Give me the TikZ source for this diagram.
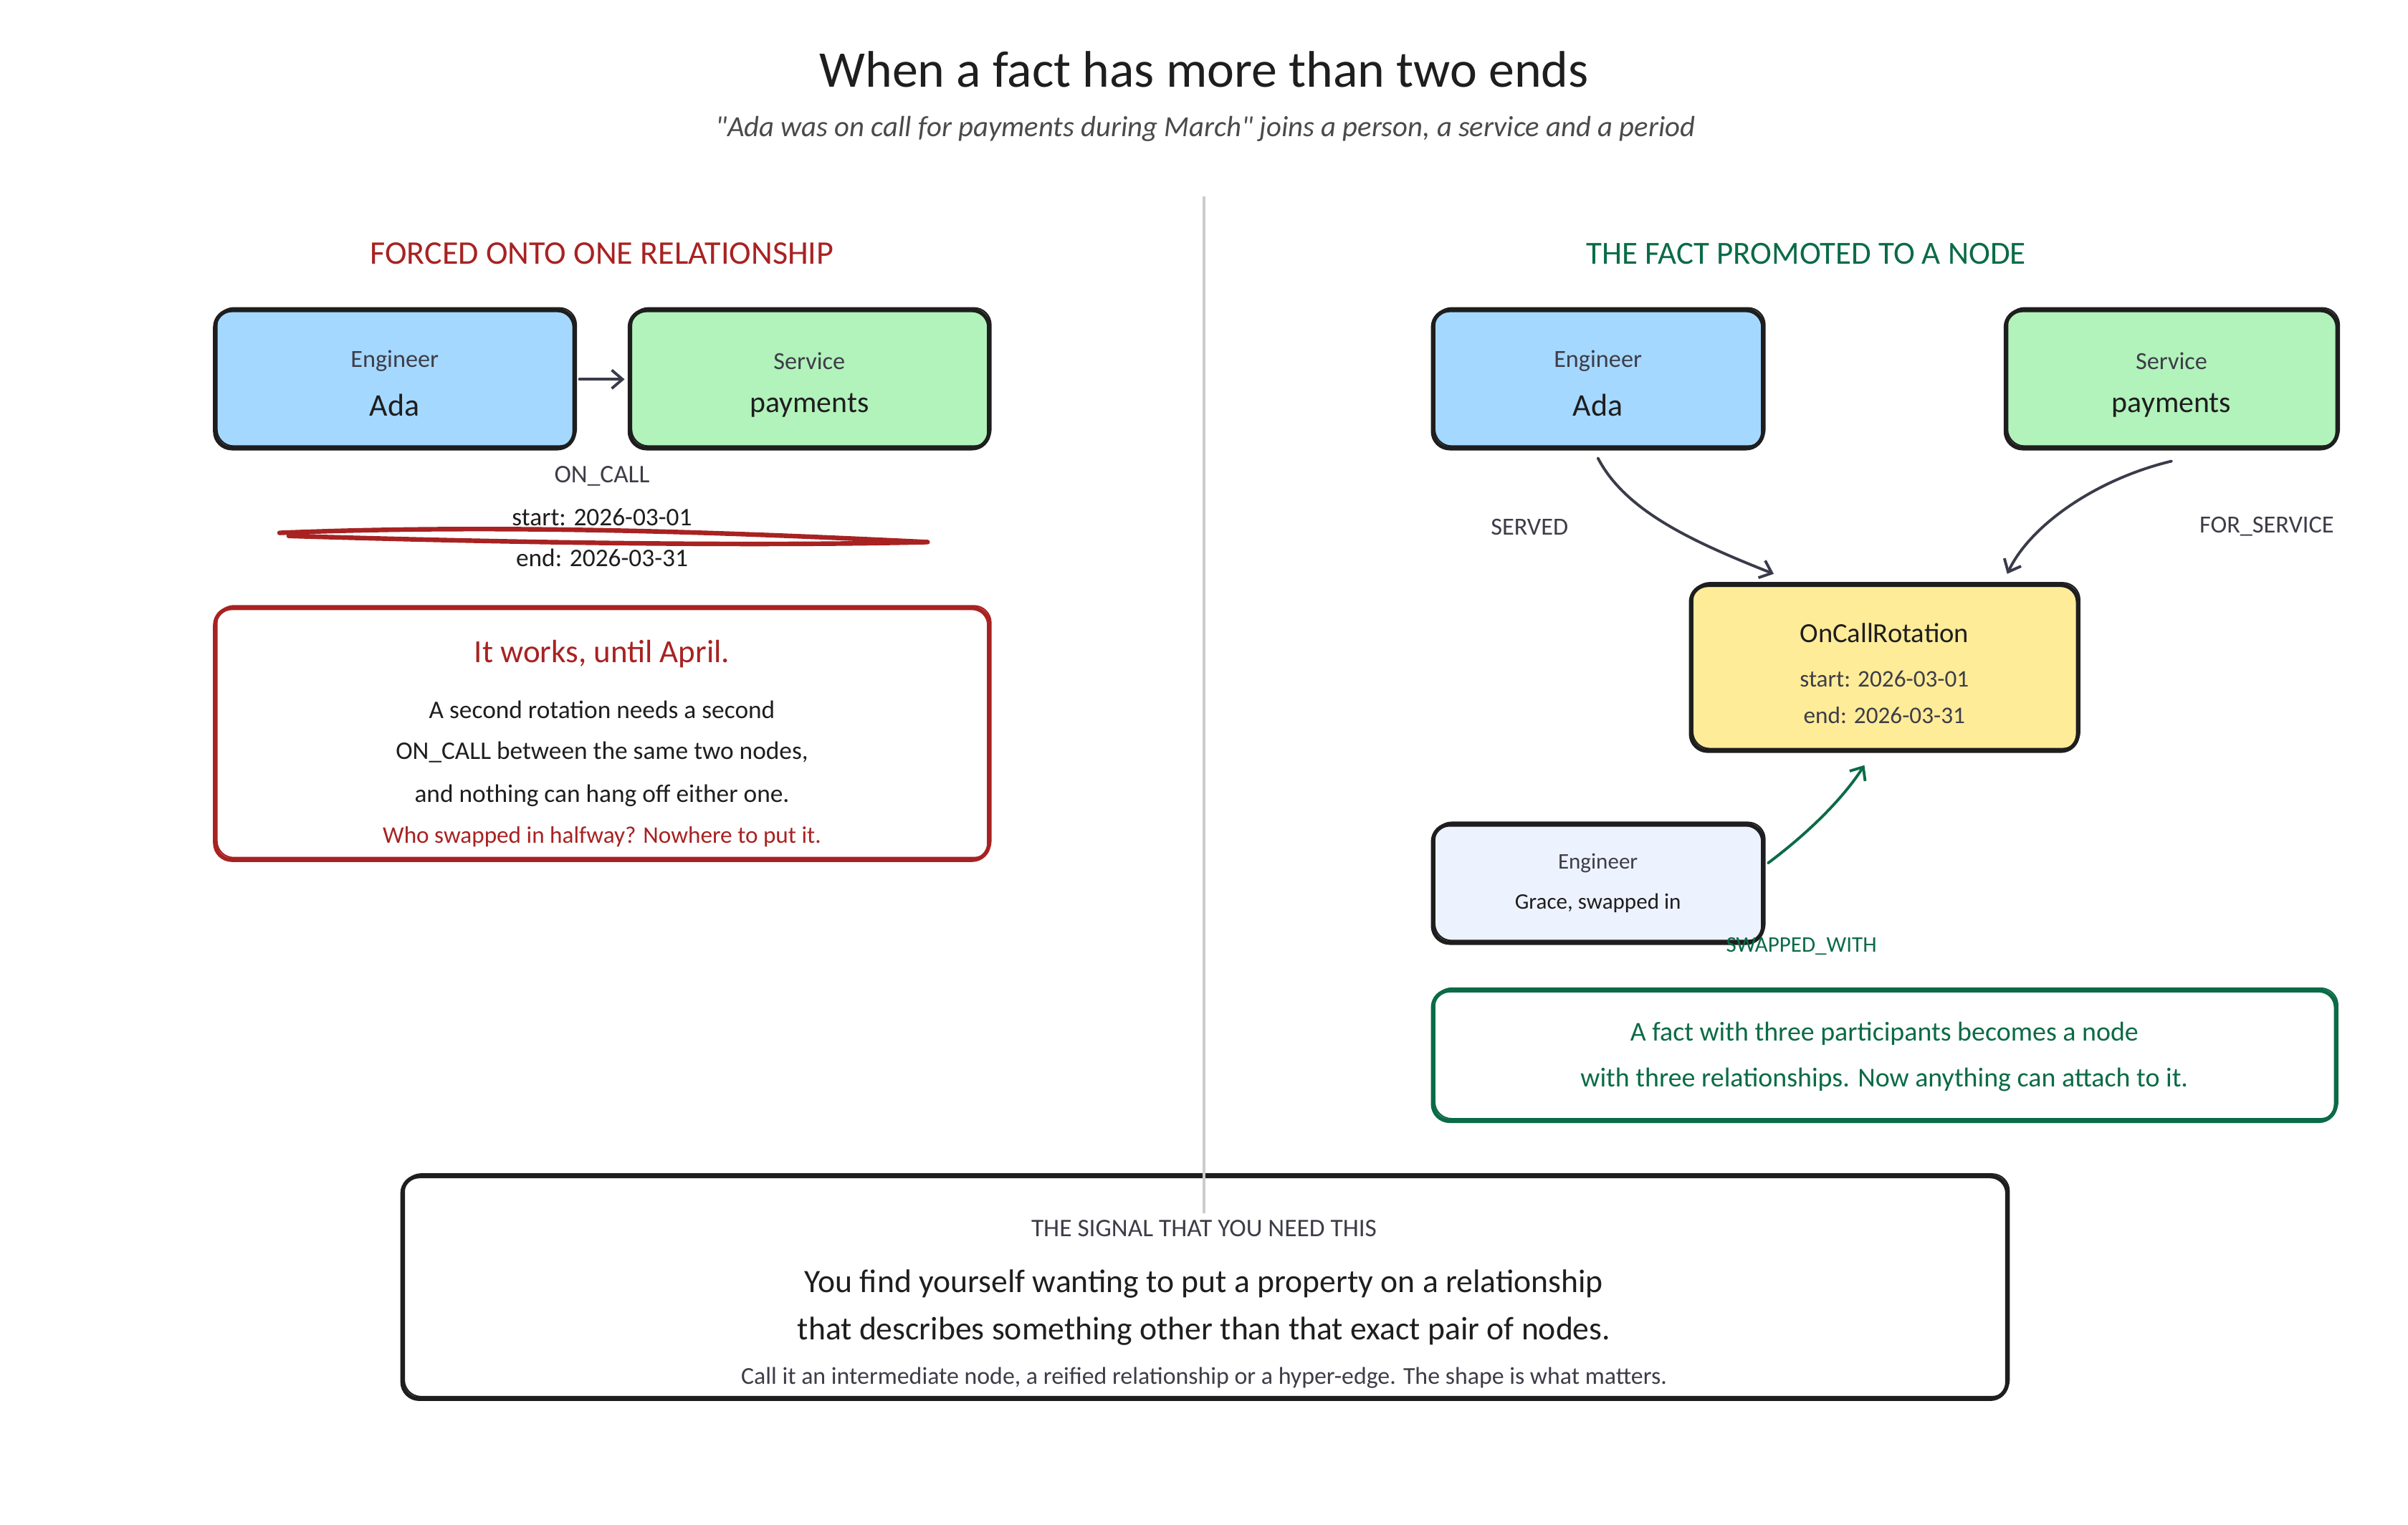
\documentclass[tikz,border=0pt]{standalone}
\usepackage{fontspec}
\setmainfont{Carlito}
\newfontfamily\subfont{Carlito}[Ligatures=TeXOff]
\usetikzlibrary{arrows.meta}
\definecolor{ink}{HTML}{1E1E1E}
\definecolor{mute}{HTML}{3D3D48}
\definecolor{subgray}{HTML}{4A4A4A}
\definecolor{redink}{HTML}{A82222}
\definecolor{greenink}{HTML}{0B6B47}
\definecolor{bluefill}{HTML}{A5D8FF}
\definecolor{greenfill}{HTML}{B2F2BB}
\definecolor{yellowfill}{HTML}{FFEC99}
\definecolor{lavfill}{HTML}{EDF2FF}
\definecolor{dividergray}{HTML}{CCCCCC}
\definecolor{arrowink}{HTML}{3A3B4A}
\newcommand{\fsz}[1]{\fontsize{#1}{#1}\selectfont}
\begin{document}
\begin{tikzpicture}[x=1pt,y=-1pt,
  box/.style={draw=#1, line width=2.6pt, rounded corners=11pt, inner sep=0pt,
    postaction={draw=#1, line width=1pt, transform canvas={xshift=1.2pt,yshift=1.5pt}}},
  box/.default=ink,
  txt/.style={inner sep=0pt, anchor=center},
  arr/.style={draw=arrowink, line width=1.8pt, line cap=round,
    -{Straight Barb[length=7pt,width=12pt,line width=1.8pt]}},
  garr/.style={arr, draw=greenink}
]
\fill[white] (0,0) rectangle (1568,993);
\useasboundingbox (0,0) rectangle (1568,993);

% title
\node[txt, text=ink] (title) at (784,45) {\fsz{33.5}When a fact has more than two ends};
\node[txt, text=subgray] (subtitle) at (785,84) {\subfont\fsz{19}\itshape "Ada was on call for payments during March" joins a person, a service and a period};

% section headers
\node[txt, text=redink] (hleft) at (392,165) {\fsz{21.5}FORCED ONTO ONE RELATIONSHIP};
\node[txt, text=greenink] (hright) at (1176,165) {\fsz{21}THE FACT PROMOTED TO A NODE};

% ---------- left side ----------
\node[box, fill=bluefill, minimum width=234pt, minimum height=90pt] (adaL) at (257,247) {};
\node[box, fill=greenfill, minimum width=234pt, minimum height=90pt] (svcL) at (527,247) {};
\node[txt, text=mute] (adaLk) at (257,235) {\fsz{16}Engineer};
\node[txt, text=ink] (adaLn) at (257,264) {\fsz{20.5}Ada};
\node[txt, text=mute] (svcLk) at (527,235) {\fsz{16}Service};
\node[txt, text=ink] (svcLn) at (527,264) {\fsz{19.5}payments};
\draw[arr] ([xshift=2pt]adaL.east) -- ([xshift=-2pt]svcL.west);

\node[txt, text=mute] (oncall) at (392,310) {\fsz{16.5}ON\_CALL};
\node[txt, text=ink] (startL) at (392,337) {\fsz{16.5}start: 2026-03-01};
\node[txt, text=ink] (endL) at (392,363) {\fsz{16.5}end: 2026-03-31};
\draw[redink, line width=3pt, line cap=round, line join=round]
  (182,347) .. controls (330,341) and (480,347) .. (604,353)
  .. controls (480,356) and (320,353) .. (188,349);

\node[box=redink, minimum width=504pt, minimum height=164pt] (warn) at (392,478) {};
\node[txt, text=redink] (warn1) at (392,426) {\fsz{21}It works, until April.};
\node[txt, text=ink] (warn2) at (392,462) {\fsz{16.5}A second rotation needs a second};
\node[txt, text=ink] (warn3) at (392,490) {\fsz{16.5}ON\_CALL between the same two nodes,};
\node[txt, text=ink] (warn4) at (392,518) {\fsz{16.5}and nothing can hang off either one.};
\node[txt, text=redink] (warn5) at (392,545) {\fsz{15.5}Who swapped in halfway? Nowhere to put it.};

% ---------- right side ----------
\node[box, fill=bluefill, minimum width=215pt, minimum height=90pt] (adaR) at (1040.5,247) {};
\node[box, fill=greenfill, minimum width=216pt, minimum height=90pt] (svcR) at (1414,247) {};
\node[txt, text=mute] (adaRk) at (1040.5,235) {\fsz{16}Engineer};
\node[txt, text=ink] (adaRn) at (1040.5,264) {\fsz{20.5}Ada};
\node[txt, text=mute] (svcRk) at (1414,235) {\fsz{16}Service};
\node[txt, text=ink] (svcRn) at (1414,264) {\fsz{19.5}payments};

\node[box, fill=yellowfill, minimum width=252pt, minimum height=108pt] (rot) at (1227,435) {};
\node[txt, text=ink] (rotn) at (1227,412) {\fsz{18}OnCallRotation};
\node[txt, text=mute] (rots) at (1227,442) {\fsz{15.5}start: 2026-03-01};
\node[txt, text=mute] (rote) at (1227,466) {\fsz{15.5}end: 2026-03-31};

\node[box, fill=lavfill, minimum width=215pt, minimum height=77pt] (grace) at (1040.5,575.5) {};
\node[txt, text=mute] (gracek) at (1040.5,562) {\fsz{14.5}Engineer};
\node[txt, text=ink] (gracen) at (1040.5,588) {\fsz{14.5}Grace, swapped in};

\coordinate (s1) at ([yshift=-5pt]adaR.south);
\coordinate (e1) at ([xshift=-72pt,yshift=6pt]rot.north);
\draw[arr] (s1) .. controls (1058,332) and (1100,352) .. (e1);
\node[txt, text=mute] (served) at (996,343) {\fsz{16}SERVED};

\coordinate (s2) at ([yshift=-7pt]svcR.south);
\coordinate (e2) at ([xshift=80pt,yshift=6pt]rot.north);
\draw[arr] (s2) .. controls (1365,312) and (1322,342) .. (e2);
\node[txt, text=mute] (forsvc) at (1476,343) {\fsz{16}FOR\_SERVICE};

\coordinate (s3) at ([xshift=2pt,yshift=13.5pt]grace.east);
\coordinate (e3) at ([xshift=-13pt,yshift=-8pt]rot.south);
\draw[garr] (s3) .. controls (1178,542) and (1200,520) .. (e3);
\node[txt, text=greenink] (swapped) at (1173,616) {\fsz{14.5}SWAPPED\_WITH};

\node[box=greenink, minimum width=588pt, minimum height=85pt] (gnote) at (1227,687.5) {};
\node[txt, text=greenink] (gnote1) at (1227,673) {\fsz{17.7}A fact with three participants becomes a node};
\node[txt, text=greenink] (gnote2) at (1227,703) {\fsz{17.7}with three relationships. Now anything can attach to it.};

% ---------- bottom ----------
\node[box, minimum width=1045pt, minimum height=145pt] (signal) at (784.5,838.5) {};
\coordinate (divtop) at (784,128);
\coordinate (divbot) at (784,790);
\draw[dividergray, line width=2pt] (divtop) -- (divbot);
\node[txt, text=mute] (sig0) at (784,800) {\fsz{16.5}THE SIGNAL THAT YOU NEED THIS};
\node[txt, text=ink] (sig1) at (784,836) {\fsz{21.3}You find yourself wanting to put a property on a relationship};
\node[txt, text=ink] (sig2) at (784,867) {\fsz{21.3}that describes something other than that exact pair of nodes.};
\node[txt, text=mute] (sig3) at (784,897) {\fsz{15.8}Call it an intermediate node, a reified relationship or a hyper-edge. The shape is what matters.};
\end{tikzpicture}
\end{document}
